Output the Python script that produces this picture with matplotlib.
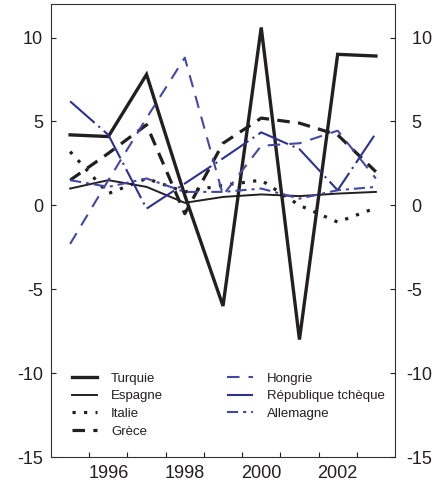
import matplotlib
matplotlib.use("Agg")
import matplotlib.pyplot as plt
from matplotlib.ticker import FixedLocator, NullFormatter

plt.rcParams['font.family'] = ['Liberation Sans', 'DejaVu Sans']
plt.rcParams['axes.unicode_minus'] = False
plt.rcParams['lines.scale_dashes'] = False

years = [1995, 1996, 1997, 1998, 1999, 2000, 2001, 2002, 2003]
turquie = [4.2, 4.1, 7.8, 0.6, -6.0, 10.6, -8.0, 9.0, 8.9]
espagne = [1.0, 1.5, 1.1, 0.15, 0.5, 0.65, 0.55, 0.7, 0.8]
italie = [3.2, 0.7, 1.6, 0.8, 1.2, 1.5, 0.0, -1.0, -0.15]
grece = [1.5, 3.1, 4.8, -0.5, 3.7, 5.2, 4.9, 4.2, 2.0]
hongrie = [-2.3, 1.5, 5.2, 8.8, 0.6, 3.55, 3.7, 4.45, 1.6]
rep_tcheque = [6.2, 4.2, -0.2, 1.3, 2.8, 4.35, 3.35, 0.9, 4.3]
allemagne = [1.5, 1.1, 1.6, 0.8, 0.8, 1.0, 0.4, 0.9, 1.1]

labels = ['Turquie', 'Espagne', 'Italie', 'Grèce',
          'Hongrie', 'République tchèque', 'Allemagne']
yticks = [-15, -10, -5, 0, 5, 10]
xticks = [1996, 1998, 2000, 2002]
xminor = [1995.5, 1996.5, 1997.5, 1998.5, 1999.5, 2000.5, 2001.5, 2002.5]

BLACK = '#231f20'
BLUE_D = '#2E3192'
BLUE = '#4547A6'

fig = plt.figure(figsize=(4.4, 4.83), dpi=100)
ax = fig.add_axes([51/440, 26/483, 344/440, 453/483])

ax.plot(years, turquie, color=BLACK, lw=2.4, solid_joinstyle='miter', label=labels[0])
ax.plot(years, espagne, color=BLACK, lw=1.4, label=labels[1])
ax.plot(years, italie, color=BLACK, lw=2.3, dashes=(2.3, 6.0), label=labels[2])
ax.plot(years, grece, color=BLACK, lw=2.3, dashes=(9.0, 6.0), label=labels[3])
ax.plot(years, hongrie, color=BLUE, lw=1.5, dashes=(9.0, 6.5), label=labels[4])
ax.plot(years, rep_tcheque, color=BLUE_D, lw=1.5, dashes=(23.5, 3.6, 1.5, 3.6), label=labels[5])
ax.plot(years, allemagne, color=BLUE, lw=1.5, dashes=(8.0, 3.6, 2.2, 3.6), label=labels[6])

ax.set_xlim(1994.5, 2003.5)
ax.set_ylim(-15, 12)

for s in ax.spines.values():
    s.set_linewidth(0.8)
    s.set_color('#333333')

ax.set_yticks(yticks)
ax.set_yticklabels([str(v) for v in yticks])
ax.tick_params(axis='y', which='major', direction='in', length=3.5, width=0.8,
               labelsize=13, pad=5.8, left=True, right=True,
               labelleft=True, labelright=False, colors=BLACK)

ax2 = ax.twinx()
ax2.set_ylim(ax.get_ylim())
ax2.set_yticks(yticks)
ax2.set_yticklabels([(' ' + str(v)) if v >= 0 else str(v) for v in yticks])
for lab in ax2.get_yticklabels():
    lab.set_horizontalalignment('left')
ax2.tick_params(axis='y', direction='in', length=3.5, width=0.8, labelsize=13,
                pad=8.4, colors=BLACK)
for s in ax2.spines.values():
    s.set_visible(False)

ax.set_xticks(xticks)
ax.set_xticklabels([str(v) for v in xticks])
ax.xaxis.set_minor_locator(FixedLocator(xminor))
ax.xaxis.set_minor_formatter(NullFormatter())
ax.tick_params(axis='x', which='major', length=0, labelsize=13, pad=5.5, colors=BLACK)
ax.tick_params(axis='x', which='minor', direction='in', length=3.5, width=0.8,
               colors=BLACK)

leg = ax.legend(ncol=2, loc='upper left', bbox_to_anchor=(0.06, 0.186),
                frameon=False, fontsize=9.5, handlelength=1.95,
                handletextpad=1.05, columnspacing=4.85, labelspacing=0.4,
                borderpad=0, borderaxespad=0)
for t in leg.get_texts():
    t.set_color(BLACK)

fig.savefig('out.png', dpi=100)
